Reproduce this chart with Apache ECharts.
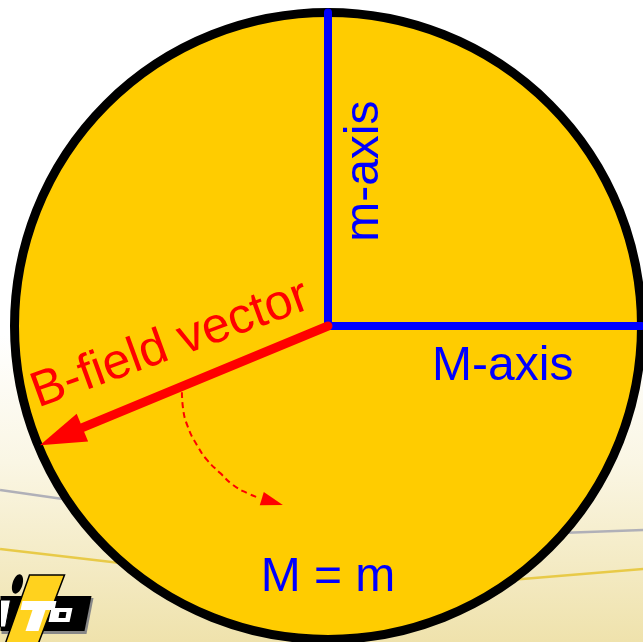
<!DOCTYPE html>
<html>
<head>
<meta charset="utf-8">
<script src="https://cdn.jsdelivr.net/npm/echarts@6/dist/echarts.min.js"></script>
<style>
html,body{margin:0;padding:0;background:#fff;}
#c{width:643px;height:642px;}
</style>
</head>
<body>
<div id="c"></div>
<script>
// ---- data (unit circle coordinates, radius = 1) ----
var circleData = [[0, 0, 1]];               // centre x, centre y, radius
var mAxisLine = [[0, 0], [0, 1]];           // m-axis (vertical)
var MAxisLine = [[0, 0], [1, 0]];           // M-axis (horizontal)
var bVector = [[0, 0], [-0.919, -0.380]];   // B-field vector: start, tip
var rotationPath = [[-0.466, -0.211], [-0.463, -0.258], [-0.447, -0.322], [-0.418, -0.380],
  [-0.386, -0.427], [-0.344, -0.469], [-0.303, -0.507], [-0.258, -0.533], [-0.217, -0.549]];
var rotationTip = [-0.144, -0.571];
var labelTexts = ['m-axis', 'M-axis', 'B-field vector', 'M = m'];
var labelPos = [[0.118, 0.494], [0.332, -0.131], [-0.503, -0.060], [0, -0.804]];
var labelRot = [90, 0, 20, 0];
var labelSize = [48, 48, 50, 48];
var labelAlign = ['center', 'left', 'center', 'center'];
var labelColor = ['#0000FF', '#0000FF', '#FF0000', '#0000FF'];
var bgGray1 = [[-1.046, -0.523], [-0.823, -0.555]];
var bgGray2 = [[0.740, -0.660], [1.005, -0.651]];
var bgYellow1 = [[-1.046, -0.711], [-0.663, -0.756]];
var bgYellow2 = [[0.581, -0.810], [1.005, -0.775]];

// ---- layout ----
var W = 643, H = 642, CX = 328, CY = 326, S = 313.5;

var chart = echarts.init(document.getElementById('c'), null, {renderer: 'canvas'});

function arrowHead(tip, from, len, half) {
  var dx = tip[0] - from[0], dy = tip[1] - from[1];
  var d = Math.sqrt(dx * dx + dy * dy); dx /= d; dy /= d;
  var bx = tip[0] - dx * len, by = tip[1] - dy * len;
  return [[tip[0], tip[1]], [bx - dy * half, by + dx * half], [bx + dy * half, by - dx * half]];
}

var labelData = labelTexts.map(function (t, i) {
  return [labelPos[i][0], labelPos[i][1], i];
});

var option = {
  animation: false,
  backgroundColor: {
    type: 'linear', x: 0, y: 0, x2: 0, y2: 1,
    colorStops: [{offset: 0, color: '#FFFFFF'}, {offset: 0.52, color: '#FFFFFF'},
      {offset: 0.72, color: '#FAF6E4'}, {offset: 1, color: '#EFE2AC'}]
  },
  grid: {left: 0, top: 0, width: W, height: H, containLabel: false},
  xAxis: {type: 'value', min: -CX / S, max: (W - CX) / S, show: false},
  yAxis: {type: 'value', min: -(H - CY) / S, max: CY / S, show: false},
  series: [
    {type: 'line', data: bgGray1, symbol: 'none', z: 1, lineStyle: {color: '#B0B0B8', width: 2.5}},
    {type: 'line', data: bgGray2, symbol: 'none', z: 1, lineStyle: {color: '#B0B0B8', width: 2.5}},
    {type: 'line', data: bgYellow1, symbol: 'none', z: 1, lineStyle: {color: '#E8CA48', width: 2.5}},
    {type: 'line', data: bgYellow2, symbol: 'none', z: 1, lineStyle: {color: '#E8CA48', width: 2.5}},
    {
      type: 'custom', z: 2, data: circleData,
      renderItem: function (p, api) {
        var c = api.coord([api.value(0), api.value(1)]);
        var r = api.size([api.value(2), 0])[0];
        return {type: 'circle', shape: {cx: c[0], cy: c[1], r: r},
          style: {fill: '#FFCC00', stroke: '#000000', lineWidth: 9}};
      }
    },
    {type: 'line', data: mAxisLine, symbol: 'none', z: 3,
      lineStyle: {color: '#0000FF', width: 8, cap: 'round'}},
    {type: 'line', data: MAxisLine, symbol: 'none', z: 3,
      lineStyle: {color: '#0000FF', width: 8, cap: 'round'}},
    {
      type: 'custom', z: 4, data: [0],
      renderItem: function (p, api) {
        var a = api.coord(bVector[0]), t = api.coord(bVector[1]);
        var head = arrowHead(t, a, 46, 15);
        var bx = (head[1][0] + head[2][0]) / 2, by = (head[1][1] + head[2][1]) / 2;
        return {type: 'group', children: [
          {type: 'line', shape: {x1: a[0], y1: a[1], x2: bx, y2: by},
            style: {stroke: '#FF0000', lineWidth: 9, lineCap: 'round'}},
          {type: 'polygon', shape: {points: head}, style: {fill: '#FF0000'}}
        ]};
      }
    },
    {type: 'line', data: rotationPath, symbol: 'none', smooth: true, z: 4,
      lineStyle: {color: '#FF0000', width: 2, type: [6, 4]}},
    {
      type: 'custom', z: 4, data: [0],
      renderItem: function (p, api) {
        var f = api.coord(rotationPath[rotationPath.length - 1]), t = api.coord(rotationTip);
        return {type: 'polygon', shape: {points: arrowHead(t, f, 22, 7)}, style: {fill: '#FF0000'}};
      }
    },
    {
      type: 'custom', z: 5, data: labelData,
      renderItem: function (p, api) {
        var i = api.value(2);
        var c = api.coord([api.value(0), api.value(1)]);
        return {type: 'text', x: c[0], y: c[1], rotation: labelRot[i] * Math.PI / 180,
          style: {text: labelTexts[i], fill: labelColor[i], fontSize: labelSize[i],
            fontFamily: '"Liberation Sans", Arial, sans-serif',
            align: labelAlign[i], verticalAlign: 'middle'}};
      }
    }
  ],
  graphic: [
    {type: 'group', left: 0, top: 573, z: 10, children: [
      {type: 'polygon', shape: {points: [[1, 24], [93, 24], [86, 60], [1, 60]]}, style: {fill: '#888'}},
      {type: 'polygon', shape: {points: [[0, 22], [91, 22], [84, 57], [0, 57]]}, style: {fill: '#000'}},
      {type: 'polygon', shape: {points: [[29, 1], [64, 1], [38, 69], [5, 69]]},
        style: {fill: '#FFD21E', stroke: '#000', lineWidth: 1.5}},
      {type: 'ellipse', shape: {cx: 17, cy: 10, rx: 5, ry: 10}, rotation: -0.3, originX: 17, originY: 10,
        style: {fill: '#000'}},
      {type: 'polygon', shape: {points: [[0, 26], [10, 26], [5, 53], [0, 53]]}, style: {fill: '#fff', stroke: '#000', lineWidth: 1}},
      {type: 'polygon', shape: {points: [[22, 27], [56, 27], [54, 36], [20, 36]]}, style: {fill: '#fff'}},
      {type: 'polygon', shape: {points: [[32, 36], [45, 36], [38, 57], [25, 57]]}, style: {fill: '#fff'}},
      {type: 'polygon', shape: {points: [[51, 34], [72, 34], [69, 48], [48, 48]]}, style: {fill: '#fff'}},
      {type: 'polygon', shape: {points: [[59, 38], [66, 38], [65, 44], [58, 44]]}, style: {fill: '#000'}}
    ]}
  ]
};
chart.setOption(option);
</script>
</body>
</html>
